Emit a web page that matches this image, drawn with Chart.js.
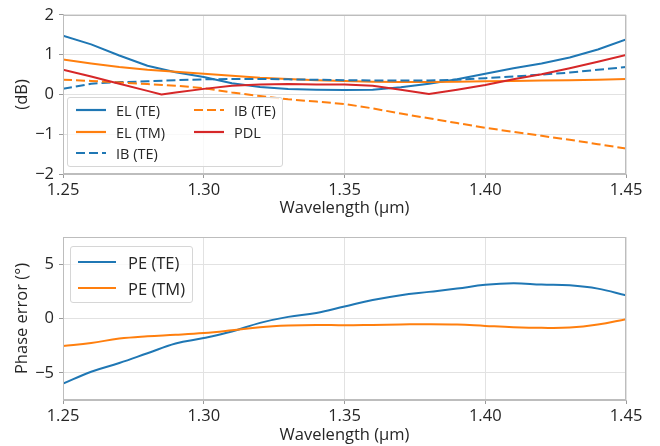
<!DOCTYPE html>
<html>
<head>
<meta charset="utf-8">
<script src="https://cdn.jsdelivr.net/npm/chart.js@4.4.0/dist/chart.umd.min.js"></script>
<style>
  body { margin: 0; background: #fff; font-family: "Open Sans", sans-serif; }
  #wrap { position: relative; width: 660px; height: 446px; }
  .panel { position: absolute; left: 0; width: 660px; }
  .legend { position: absolute; box-sizing: border-box; border: 1px solid #d6d6d6; border-radius: 3px;
            background: rgba(255,255,255,0.8); color: #262626; }
  .item { position: absolute; display: flex; align-items: center; height: 20px; white-space: nowrap; }
</style>
</head>
<body>
<div id="wrap">
  <div class="panel" style="top:0;height:222px"><canvas id="topChart" width="660" height="222"></canvas></div>
  <div class="panel" style="top:222px;height:224px"><canvas id="bottomChart" width="660" height="224"></canvas></div>
  <div class="legend" id="legendTop" style="left:67px;top:97px;width:216px;height:70px;font-size:14.5px"></div>
  <div class="legend" id="legendBottom" style="left:70px;top:246px;width:123px;height:57px;font-size:16.5px"></div>
</div>
<script>
// Wavelength grid (um)
const wavelength = [1.25, 1.26, 1.27, 1.28, 1.29, 1.30, 1.31, 1.32, 1.33, 1.34, 1.35,
                    1.36, 1.37, 1.38, 1.39, 1.40, 1.41, 1.42, 1.43, 1.44, 1.45];
const pdlWavelength = [1.25, 1.26, 1.27, 1.28, 1.285, 1.29, 1.30, 1.31, 1.32, 1.33, 1.34, 1.35,
                       1.36, 1.37, 1.38, 1.39, 1.40, 1.41, 1.42, 1.43, 1.44, 1.45];

// Top panel (dB)
const elTE = [1.48, 1.26, 0.98, 0.72, 0.56, 0.44, 0.28, 0.19, 0.14, 0.12, 0.11,
              0.12, 0.18, 0.27, 0.38, 0.52, 0.66, 0.78, 0.93, 1.13, 1.38];
const elTM = [0.88, 0.78, 0.69, 0.62, 0.57, 0.52, 0.47, 0.42, 0.39, 0.36, 0.34,
              0.32, 0.31, 0.31, 0.32, 0.33, 0.34, 0.35, 0.36, 0.37, 0.39];
const ibTE = [0.14, 0.27, 0.31, 0.33, 0.36, 0.38, 0.39, 0.39, 0.38, 0.37, 0.36,
              0.35, 0.35, 0.35, 0.37, 0.41, 0.45, 0.50, 0.55, 0.62, 0.69];
const ibTM = [0.37, 0.34, 0.30, 0.26, 0.22, 0.16, 0.05, -0.04, -0.12, -0.18, -0.24,
              -0.35, -0.48, -0.60, -0.72, -0.84, -0.94, -1.04, -1.14, -1.25, -1.36];
const pdl = [0.62, 0.45, 0.27, 0.09, 0.0, 0.05, 0.14, 0.22, 0.25, 0.26, 0.25, 0.25,
             0.22, 0.12, 0.01, 0.12, 0.24, 0.38, 0.51, 0.66, 0.82, 0.99];

// Bottom panel (degrees)
const peTE = [-6.0, -4.9, -4.1, -3.2, -2.3, -1.8, -1.2, -0.4, 0.15, 0.5, 1.1,
              1.7, 2.15, 2.45, 2.75, 3.1, 3.24, 3.12, 3.05, 2.75, 2.13];
const peTM = [-2.53, -2.25, -1.85, -1.64, -1.5, -1.33, -1.08, -0.8, -0.65, -0.59, -0.62,
              -0.59, -0.55, -0.52, -0.55, -0.68, -0.8, -0.86, -0.83, -0.55, -0.06];

// Tick labels
const xTicks = [1.25, 1.30, 1.35, 1.40, 1.45];
const dbTicks = [-2, -1, 0, 1, 2];
const phaseTicks = [-5, 0, 5];

const BLUE = '#1f77b4', ORANGE = '#ff7f0e', RED = '#d62728';
const FONT = '"Open Sans", sans-serif';
const TEXT = '#262626';
const GRID = '#e2e2e2';
const SPINE = '#bdbdbd';

const pts = (xs, ys) => xs.map((x, i) => ({ x: x, y: ys[i] }));
const minus = v => (v < 0 ? '\u2212' : '') + Math.abs(v);

// draws the full box around the plot area
const framePlugin = {
  id: 'frame',
  afterDatasetsDraw(chart) {
    const a = chart.chartArea, ctx = chart.ctx;
    ctx.save();
    ctx.strokeStyle = SPINE;
    ctx.lineWidth = 1;
    ctx.strokeRect(Math.round(a.left) + 0.5, Math.round(a.top) + 0.5,
                   Math.round(a.right - a.left) - 1, Math.round(a.bottom - a.top) - 1);
    ctx.restore();
  }
};

function makeOptions(cfg) {
  return {
    responsive: false,
    animation: false,
    layout: { padding: { top: cfg.padTop, right: 34, left: 0, bottom: 0 } },
    plugins: { legend: { display: false }, tooltip: { enabled: false } },
    elements: { point: { radius: 0 }, line: { borderWidth: 2, borderJoinStyle: 'round' } },
    scales: {
      x: {
        type: 'linear', min: 1.25, max: 1.45,
        afterBuildTicks: s => { s.ticks = xTicks.map(v => ({ value: v })); },
        afterFit: s => { s.height = cfg.xHeight; },
        ticks: { color: TEXT, font: { family: FONT, size: 16.5 }, padding: 2,
                 callback: v => v.toFixed(2) },
        grid: { color: GRID, tickColor: '#9a9a9a', tickLength: 4 },
        border: { color: SPINE },
        title: { display: true, text: 'Wavelength (\u00b5m)', color: TEXT,
                 font: { family: FONT, size: 16.5 }, padding: { top: 0, bottom: cfg.titlePad } }
      },
      y: {
        min: cfg.yMin, max: cfg.yMax,
        afterBuildTicks: s => { s.ticks = cfg.yTicks.map(v => ({ value: v })); },
        afterFit: s => { s.width = 63; },
        ticks: { color: TEXT, font: { family: FONT, size: 16.5 }, padding: 5, callback: minus },
        grid: { color: GRID, tickColor: '#9a9a9a', tickLength: 4 },
        border: { color: SPINE },
        title: { display: true, text: cfg.yTitle, color: TEXT,
                 font: { family: FONT, size: 16.5 }, padding: { top: 12, bottom: 0 } }
      }
    }
  };
}

const topChart = new Chart(document.getElementById('topChart'), {
  type: 'line',
  data: {
    datasets: [
      { label: 'EL (TE)', data: pts(wavelength, elTE), borderColor: BLUE, order: 5 },
      { label: 'EL (TM)', data: pts(wavelength, elTM), borderColor: ORANGE, order: 4 },
      { label: 'IB (TE)', data: pts(wavelength, ibTE), borderColor: BLUE, borderDash: [9, 4], order: 3 },
      { label: 'IB (TE)', data: pts(wavelength, ibTM), borderColor: ORANGE, borderDash: [9, 4], order: 2 },
      { label: 'PDL', data: pts(pdlWavelength, pdl), borderColor: RED, order: 1 }
    ]
  },
  options: makeOptions({ yMin: -2, yMax: 2, yTicks: dbTicks, yTitle: '(dB)',
                         padTop: 12, xHeight: 48, titlePad: 4 }),
  plugins: [framePlugin]
});

const bottomChart = new Chart(document.getElementById('bottomChart'), {
  type: 'line',
  data: {
    datasets: [
      { label: 'PE (TE)', data: pts(wavelength, peTE), borderColor: BLUE, tension: 0.4, order: 2 },
      { label: 'PE (TM)', data: pts(wavelength, peTM), borderColor: ORANGE, tension: 0.4, order: 1 }
    ]
  },
  options: makeOptions({ yMin: -7.5, yMax: 7.5, yTicks: phaseTicks, yTitle: 'Phase error (\u00b0)',
                         padTop: 15, xHeight: 46, titlePad: 1 }),
  plugins: [framePlugin]
});

// matplotlib-style legend boxes, built from the chart datasets
function buildLegend(el, chart, slots, sampleLen, gap) {
  chart.data.datasets.forEach((ds, i) => {
    const s = slots[i];
    const item = document.createElement('div');
    item.className = 'item';
    item.style.left = s[0] + 'px';
    item.style.top = (s[1] - 10) + 'px';
    const dash = (ds.borderDash || []).join(' ');
    item.innerHTML =
      '<svg width="' + sampleLen + '" height="4"><line x1="0" y1="2" x2="' + sampleLen +
      '" y2="2" stroke="' + ds.borderColor + '" stroke-width="2.2"' +
      (dash ? ' stroke-dasharray="' + dash + '"' : '') + '/></svg>' +
      '<span style="margin-left:' + gap + 'px">' + ds.label + '</span>';
    el.appendChild(item);
  });
}

buildLegend(document.getElementById('legendTop'), topChart,
            [[8, 12], [8, 34], [8, 55], [126, 12], [126, 34]], 30, 10);
buildLegend(document.getElementById('legendBottom'), bottomChart,
            [[7, 15], [7, 41]], 38, 12);
</script>
</body>
</html>
